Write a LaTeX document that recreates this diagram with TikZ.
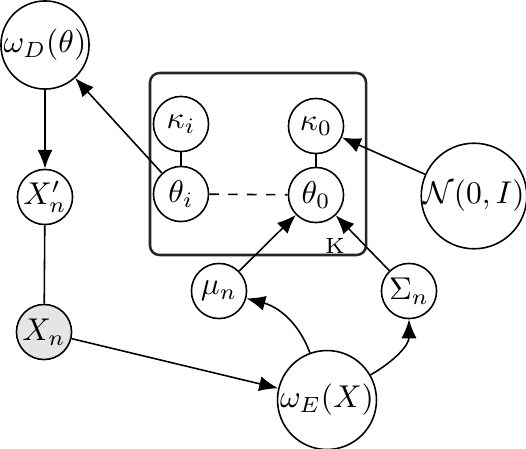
\documentclass[tikz,border=0pt]{standalone}
\usetikzlibrary{arrows.meta}
\begin{document}
\begin{tikzpicture}[x=0.3175pt,y=-0.3175pt,
  var/.style={draw,circle,inner sep=0pt,line width=0.5pt,minimum size=17.5pt},
  bigvar/.style={draw,circle,inner sep=0pt,line width=0.5pt},
  obs/.style={var,fill=gray!20},
  edge/.style={line width=0.5pt},
  arr/.style={edge,-{Latex[length=6pt,width=4.8pt]}},
  plate/.style={draw=black!85,line width=0.8pt,rounded corners=3pt}]
\useasboundingbox (0,0) rectangle (526,448);
\node[bigvar,minimum size=27pt] (wD) at (45,45) {$\omega_D(\theta)$};
\node[var] (Xp) at (45,197) {$X'_n$};
\node[obs] (X) at (44,332) {$X_n$};
\node[var] (ki) at (181,124) {$\kappa_i$};
\node[var] (ti) at (181,194) {$\theta_i$};
\node[var] (k0) at (316,126) {$\kappa_0$};
\node[var] (t0) at (316,195) {$\theta_0$};
\node[bigvar,minimum size=31.5pt] (N) at (474,196) {$\mathcal{N}(0,I)$};
\node[var] (mu) at (219,291) {$\mu_n$};
\node[var] (S) at (409,291) {$\Sigma_n$};
\node[bigvar,minimum size=29.5pt] (wE) at (327,400) {$\omega_E(X)$};
\node[plate,minimum width=216*0.3175pt,minimum height=182*0.3175pt] (plate) at (258,164) {};
\node[font=\fontsize{7}{8}\selectfont,inner sep=0pt] (K) at (335,246) {K};
\draw[arr] (ti) -- (wD);
\draw[arr] (wD) -- (Xp);
\draw[edge] (Xp) -- (X);
\draw[edge] (ki) -- (ti);
\draw[edge] (k0) -- (t0);
\draw[edge,dashed] (ti) -- (t0);
\draw[arr] (N) -- (k0);
\draw[arr] (mu) -- (t0);
\draw[arr] (S) -- (t0);
\draw[arr] (X) -- (wE);
\draw[arr] (wE) to[out=110,in=-15] (mu);
\draw[arr] (wE) to[out=30,in=-90] (S);
\end{tikzpicture}
\end{document}
